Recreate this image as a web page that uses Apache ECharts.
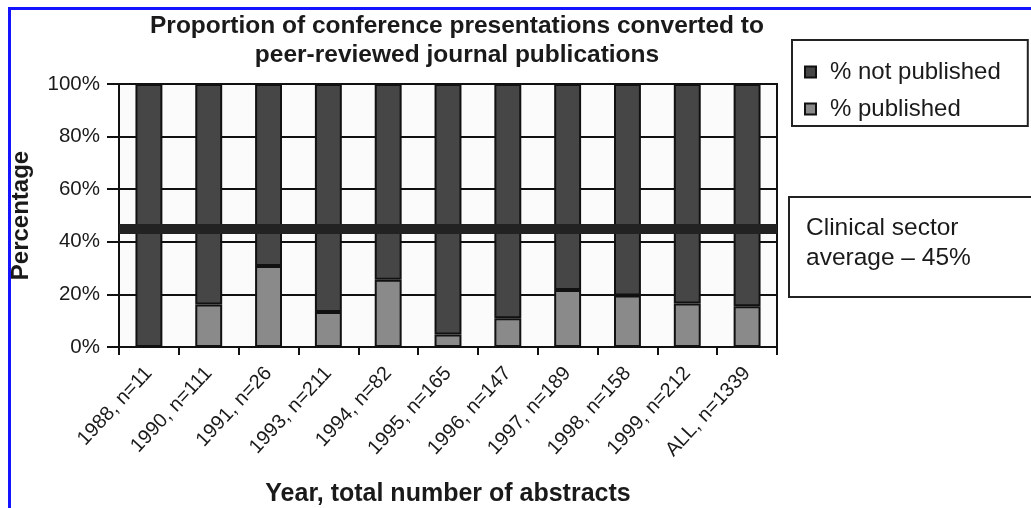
<!DOCTYPE html>
<html>
<head>
<meta charset="utf-8">
<title>Conference presentations converted to journal publications</title>
<script src="https://cdn.jsdelivr.net/npm/echarts@6/dist/echarts.min.js"></script>
<style>
  html, body { margin: 0; padding: 0; background: #ffffff; }
  #wrap { position: relative; width: 1031px; height: 508px; overflow: hidden; }
  #chart { position: absolute; left: 0; top: 0; width: 1031px; height: 508px; }
  #frame {
    position: absolute; left: 8px; top: 7px; right: -10px; bottom: -10px;
    border-left: 3px solid #1414ff; border-top: 3px solid #1414ff;
    pointer-events: none;
  }
</style>
</head>
<body>
<div id="wrap">
  <div id="chart"></div>
  <div id="frame"></div>
</div>
<script>
// Year of meeting with the number of abstracts presented
const categories = [
  '1988, n=11', '1990, n=111', '1991, n=26', '1993, n=211', '1994, n=82',
  '1995, n=165', '1996, n=147', '1997, n=189', '1998, n=158', '1999, n=212', 'ALL, n=1339'
];
// Share of abstracts later published in a peer-reviewed journal (%)
const published = [0, 16.2, 30.8, 13.3, 25.6, 4.8, 10.9, 21.7, 19.6, 16.5, 15.5];
// Share never published (%)
const notPublished = [100, 83.8, 69.2, 86.7, 74.4, 95.2, 89.1, 78.3, 80.4, 83.5, 84.5];
// Reference level for the clinical sector (%)
const sectorAverage = 45;

const seriesNames = ['% not published', '% published'];
const titleText = 'Proportion of conference presentations converted to\npeer-reviewed journal publications';
const calloutText = 'Clinical sector\naverage \u2013 ' + sectorAverage + '%';
const yAxisTitle = 'Percentage';
const xAxisTitle = 'Year, total number of abstracts';

const FONT = '"Liberation Sans", Arial, Helvetica, sans-serif';
const INK = '#1a1a1a';

const chart = echarts.init(document.getElementById('chart'), null, { renderer: 'canvas' });

chart.setOption({
  animation: false,
  backgroundColor: '#ffffff',
  textStyle: { fontFamily: FONT, color: INK },
  title: {
    text: titleText,
    left: 452,
    textAlign: 'center',
    top: 7,
    textStyle: { fontFamily: FONT, fontSize: 24.5, fontWeight: 'bold', color: INK, lineHeight: 29 }
  },
  legend: {
    data: seriesNames,
    orient: 'vertical',
    left: 792,
    top: 40,
    padding: [20, 27, 5, 12],
    itemGap: 13,
    itemWidth: 11,
    itemHeight: 11,
    icon: 'rect',
    borderColor: '#222222',
    borderWidth: 2,
    backgroundColor: '#ffffff',
    textStyle: { fontFamily: FONT, fontSize: 24, color: INK, lineHeight: 24, padding: [0, 0, 0, 9] }
  },
  grid: {
    left: 119,
    top: 84,
    width: 658,
    height: 263,
    outerBoundsMode: 'none',
    show: true,
    backgroundColor: '#fbfbfb',
    borderColor: '#111111',
    borderWidth: 2
  },
  xAxis: {
    type: 'category',
    data: categories,
    name: xAxisTitle,
    nameLocation: 'middle',
    nameGap: 135,
    nameTextStyle: { fontFamily: FONT, fontSize: 25, fontWeight: 'bold', color: INK },
    axisLine: { show: true, lineStyle: { color: '#111111', width: 2 } },
    axisTick: { show: true, alignWithLabel: false, length: 8, lineStyle: { color: '#111111', width: 2 } },
    axisLabel: { rotate: 47, margin: 23, fontFamily: FONT, fontSize: 20, color: INK, interval: 0 },
    splitLine: { show: false }
  },
  yAxis: {
    type: 'value',
    min: 0,
    max: 100,
    interval: 20,
    name: yAxisTitle,
    nameLocation: 'middle',
    nameGap: 86,
    nameTextStyle: { fontFamily: FONT, fontSize: 24, fontWeight: 'bold', color: INK },
    axisLine: { show: true, lineStyle: { color: '#111111', width: 2 } },
    axisTick: { show: true, length: 12, lineStyle: { color: '#111111', width: 2 } },
    axisLabel: { formatter: '{value}%', margin: 19, fontFamily: FONT, fontSize: 20.5, color: INK },
    splitLine: { show: true, lineStyle: { color: '#111111', width: 2 } }
  },
  series: [
    {
      name: seriesNames[1],
      type: 'bar',
      stack: 'share',
      barWidth: '45%',
      data: published,
      itemStyle: { color: '#8a8a8a', borderColor: '#111111', borderWidth: 2 }
    },
    {
      name: seriesNames[0],
      type: 'bar',
      stack: 'share',
      barWidth: '45%',
      data: notPublished,
      itemStyle: { color: '#464646', borderColor: '#111111', borderWidth: 2 },
      markLine: {
        silent: true,
        symbol: ['none', 'none'],
        label: { show: false },
        lineStyle: { color: '#222222', width: 10, type: 'solid' },
        data: [{ yAxis: sectorAverage }]
      }
    }
  ],
  graphic: [
    {
      type: 'group',
      left: 788,
      top: 196,
      children: [
        {
          type: 'rect',
          shape: { x: 0, y: 0, width: 244, height: 100 },
          style: { fill: '#ffffff', stroke: '#222222', lineWidth: 2 }
        },
        {
          type: 'text',
          x: 17,
          y: 16,
          style: {
            text: calloutText,
            font: '24.5px ' + FONT,
            fill: INK,
            lineHeight: 30
          }
        }
      ]
    }
  ]
});
</script>
</body>
</html>
